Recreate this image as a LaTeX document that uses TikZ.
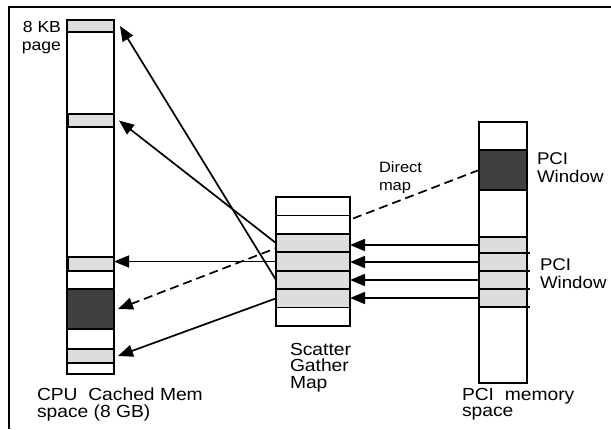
\documentclass[tikz,border=0pt]{standalone}
\usepackage{fontspec}
\setmainfont{Liberation Sans}[FakeStretch=1.1]
\usetikzlibrary{arrows.meta}
\definecolor{lightpg}{HTML}{DDDDDD}
\definecolor{darkpg}{HTML}{404040}
\tikzset{
  wh/.style 2 args={minimum width=#1pt, minimum height=#2pt},
  box/.style={draw=black, line width=1.6pt, inner sep=0pt, outer sep=0pt, anchor=north west},
  lpage/.style={box, fill=lightpg},
  dpage/.style={box, fill=darkpg},
  arr/.style={line width=1.7pt, -{Triangle[length=15pt,width=12pt]}},
  thickline/.style={line width=2.6pt},
  lbl/.style={inner sep=0pt, outer sep=0pt, align=left, anchor=north west},
}
\begin{document}
\begin{tikzpicture}[x=1pt,y=-1pt]
\useasboundingbox (0,0) rectangle (611,429);
% frame
\draw[line width=2pt] (9,429) -- (9,7) -- (611,7);

% CPU column
\node[box, fill=white, wh={47}{354}] (cpu) at (67,20) {};
\node[lpage, wh={47}{12}] (c1) at (67,20) {};
\draw[thickline] (c1.south west) -- (c1.south east);
\node[lpage, wh={46}{13}] (c2) at (68,114) {};
\node[lpage, wh={46}{14}] (c3) at (68,257) {};
\node[dpage, wh={47}{40}] (c4) at (67,289) {};
\node[lpage, wh={47}{14}] (c5) at (67,349) {};

% PCI column
\node[box, fill=white, wh={48}{261}] (pci) at (479,122) {};
\node[dpage, wh={48}{40}] (pw) at (479,150) {};
\node[lpage, wh={48}{16}] (r1) at (479,237) {};
\node[lpage, wh={48}{18}] (r2) at (479,253) {};
\node[lpage, wh={48}{18}] (r3) at (479,271) {};
\node[lpage, wh={48}{18}] (r4) at (479,289) {};
\foreach \i in {1,...,4}{
  \draw[thickline] (r\i.south west) -- ([xshift=3pt]r\i.south east);
}

% dashed direct map arrow (behind SG map)
\draw[arr, dash pattern=on 9pt off 5pt] (pw.west) -- ([xshift=4pt]c4.east);

% Scatter gather map
\node[box, fill=white, wh={74}{18.43}] (sg1) at (276,197) {};
\node[box, fill=white, wh={74}{18.43}] (sg2) at (276,215.43) {};
\node[lpage, wh={74}{18.43}] (sg3) at (276,233.86) {};
\node[lpage, wh={74}{18.43}] (sg4) at (276,252.29) {};
\node[lpage, wh={74}{18.43}] (sg5) at (276,270.71) {};
\node[lpage, wh={74}{18.43}] (sg6) at (276,289.14) {};
\node[box, fill=white, wh={74}{18.43}] (sg7) at (276,307.57) {};

% arrows SG -> CPU
\draw[arr] (sg5.west) -- ([xshift=6pt]c1.east);
\draw[arr] (sg3.west) -- ([xshift=5pt]c2.east);
\draw[arr] (sg4.west) -- (sg4.west -| c3.east);
\draw[arr] (sg6.west) -- ([xshift=4pt]c5.east);

% arrows PCI -> SG
\foreach \i in {1,...,4}{
  \draw[arr] (r\i.west) -- (r\i.west -| sg3.east);
}

% labels
\node[lbl, anchor=north east, align=right, font=\fontsize{16}{18}\selectfont] (kb) at (61,21) {8 KB\\page};
\node[lbl, font=\fontsize{17.5}{16.5}\selectfont] (cpul) at (37,388) {CPU\ \ Cached Mem\\space (8 GB)};
\node[lbl, font=\fontsize{17.5}{16.5}\selectfont] (sgl) at (290,343) {Scatter\\Gather\\Map};
\node[lbl, font=\fontsize{15}{18}\selectfont] (dm) at (379,162) {Direct\\map};
\node[lbl, font=\fontsize{17}{18}\selectfont] (pw1) at (537,153) {PCI\\Window};
\node[lbl, font=\fontsize{17}{18}\selectfont] (pw2) at (540,259) {PCI\\Window};
\node[lbl, font=\fontsize{17.5}{16.5}\selectfont] (pcil) at (462,388) {PCI\ \ memory\\space};
\end{tikzpicture}
\end{document}
